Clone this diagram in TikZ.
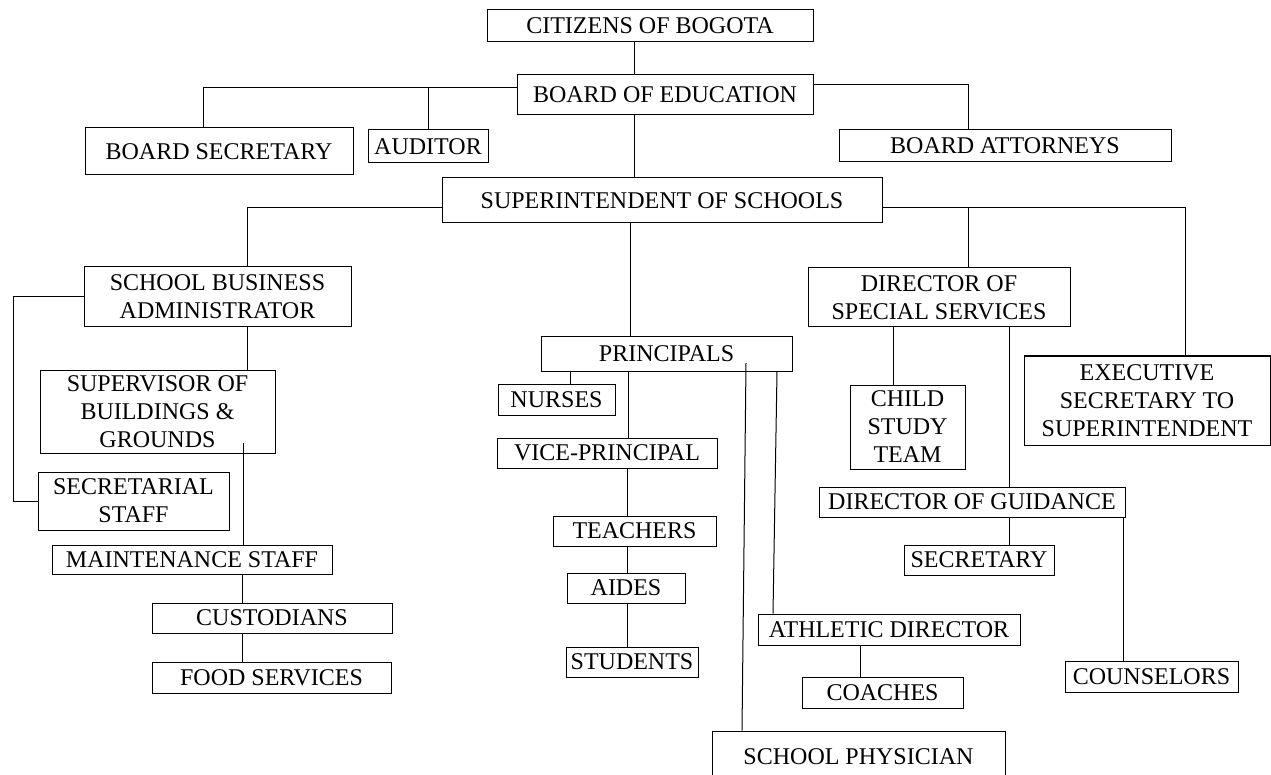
\documentclass[tikz,border=0pt]{standalone}
\usepackage{fontspec}
\setmainfont{Liberation Serif}
\usepackage{tikz}

\begin{document}
\begin{tikzpicture}[x=1pt, y=-1pt,
box/.style={draw, line width=1pt, inner sep=0pt, align=center,
  font=\fontsize{24}{28}\selectfont},
sz/.style 2 args={minimum width=#1, minimum height=#2},
conn/.style={line width=1pt}]
\useasboundingbox[fill=white] (0,0) rectangle (1271,775);
\clip (0,0) rectangle (1271,775);

% board level
\node[box, sz={326}{32}] (citizens) at (650,26) {CITIZENS OF BOGOTA};
\node[box, sz={296}{40}] (board) at (665,95) {BOARD OF EDUCATION};
\node[box, sz={268}{47}] (bsec) at (219,151.5) {BOARD SECRETARY};
\node[box, sz={120}{33}] (auditor) at (428,146.5) {AUDITOR};
\node[box, sz={332}{32}] (attorneys) at (1005,146) {BOARD ATTORNEYS};
\node[box, sz={440}{45}] (supt) at (662,200.5) {SUPERINTENDENT OF SCHOOLS};

% business side
\node[box, sz={267}{60}] (sba) at (217.5,297) {SCHOOL BUSINESS\\ADMINISTRATOR};
\node[box, sz={235}{83}] (supervisor) at (157.5,411.5) {SUPERVISOR OF\\BUILDINGS \&\\GROUNDS};
\node[box, sz={191}{58}] (secretarial) at (133.5,501) {SECRETARIAL\\STAFF};
\node[box, sz={280}{29}] (maintenance) at (192,559.5) {MAINTENANCE STAFF};
\node[box, sz={240}{30}] (custodians) at (272,618) {CUSTODIANS};
\node[box, sz={239}{31}] (food) at (271.5,677.5) {FOOD SERVICES};

% schools
\node[box, sz={251}{34}] (principals) at (666.5,354) {PRINCIPALS};
\node[box, sz={117}{31}] (nurses) at (556.5,399.5) {NURSES};
\node[box, sz={220}{30}] (vp) at (607,453) {VICE-PRINCIPAL};
\node[box, sz={163}{30}] (teachers) at (634.5,531) {TEACHERS};
\node[box, sz={118}{30}] (aides) at (626,588) {AIDES};
\node[box, sz={132}{30}] (students) at (632,662) {STUDENTS};
\node[box, sz={262}{31}] (athletic) at (889,629.5) {ATHLETIC DIRECTOR};
\node[box, sz={161}{31}] (coaches) at (882.5,692.5) {COACHES};
\node[box, sz={293}{52}] (physician) at (858.5,757) {SCHOOL PHYSICIAN};

% special services
\node[box, sz={262}{59}] (doss) at (939,297.5) {DIRECTOR OF\\SPECIAL SERVICES};
\node[box, sz={115}{84}] (child) at (907.5,427) {CHILD\\STUDY\\TEAM};
\node[box, sz={246}{89}] (exec) at (1147,400.5) {EXECUTIVE\\SECRETARY TO\\SUPERINTENDENT};
\node[box, sz={306}{30}] (dog) at (972,502) {DIRECTOR OF GUIDANCE};
\node[box, sz={150}{30}] (secretary) at (979,560) {SECRETARY};
\node[box, sz={173}{31}] (counselors) at (1151.5,676.5) {COUNSELORS};

\coordinate (supv-tap) at (243,443);
\coordinate (phys-tap) at (746,363);

% connectors
\draw[conn] (634,0 |- citizens.south) -- (634,0 |- board.north);
\draw[conn] (board.west |- 0,88) -- (203,88) -- (203,0 |- bsec.north);
\draw[conn] (428,88) -- (auditor.north);
\draw[conn] (board.east |- 0,85) -- (968,85) -- (968,0 |- attorneys.north);
\draw[conn] (634,0 |- board.south) -- (634,0 |- supt.north);

\draw[conn] (supt.west |- 0,208) -- (247,208) -- (247,0 |- sba.north);
\draw[conn] (supt.east |- 0,208) -- (1185,208) -- (1185,0 |- exec.north);
\draw[conn] (968,208) -- (968,0 |- doss.north);
\draw[conn] (630,0 |- supt.south) -- (630,0 |- principals.north);

\draw[conn] (sba.west) -- (13,0 |- sba.west) -- (13,0 |- secretarial.west) -- (secretarial.west);
\draw[conn] (247,0 |- sba.south) -- (247,0 |- supervisor.north);
\draw[conn] (supv-tap) -- (243,0 |- maintenance.north);
\draw[conn] (242,0 |- maintenance.south) -- (242,0 |- custodians.north);
\draw[conn] (242,0 |- custodians.south) -- (242,0 |- food.north);

\draw[conn] (570,0 |- principals.south) -- (570,0 |- nurses.north);
\draw[conn] (628,0 |- principals.south) -- (628,0 |- vp.north);
\draw[conn] (627,0 |- vp.south) -- (627,0 |- teachers.north);
\draw[conn] (627,0 |- teachers.south) -- (627,0 |- aides.north);
\draw[conn] (627,0 |- aides.south) -- (627,0 |- students.north);
\draw[conn] (phys-tap) -- (742,0 |- physician.north);
\draw[conn] (777,0 |- principals.south) -- (773,0 |- athletic.north);
\draw[conn] (860,0 |- athletic.south) -- (860,0 |- coaches.north);

\draw[conn] (893,0 |- doss.south) -- (893,0 |- child.north);
\draw[conn] (1009,0 |- doss.south) -- (1009,0 |- dog.north);
\draw[conn] (1009,0 |- dog.south) -- (1009,0 |- secretary.north);
\draw[conn] (1123,0 |- dog.south) -- (1123,0 |- counselors.north);
\end{tikzpicture}
\end{document}
